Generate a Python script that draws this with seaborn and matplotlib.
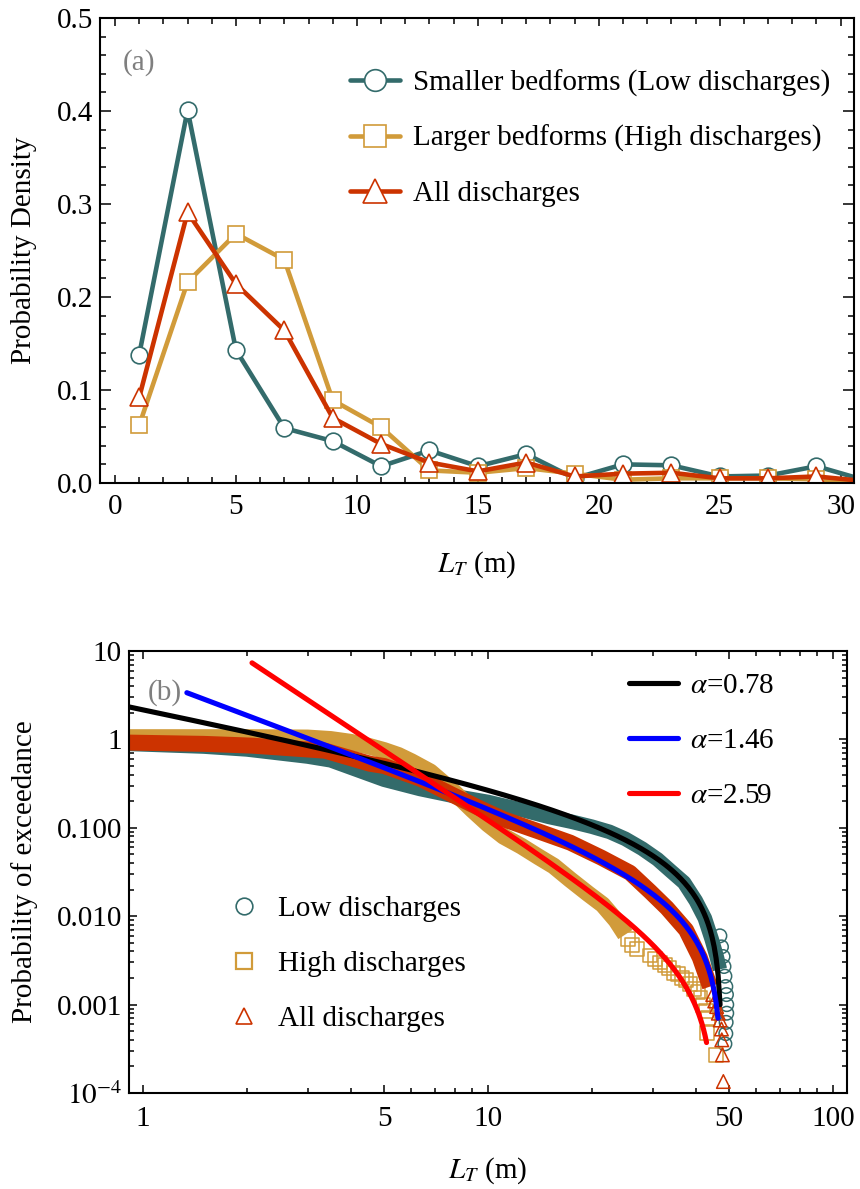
import numpy as np
import matplotlib
matplotlib.use("Agg")
import matplotlib.pyplot as plt
import seaborn as sns
from matplotlib.lines import Line2D
from matplotlib.ticker import MultipleLocator, FixedLocator, FixedFormatter, NullFormatter

# ---------------------------------------------------------------- data
# (a) probability density of bedform length, 2 m bins
bin_centers = [1, 3, 5, 7, 9, 11, 13, 15, 17, 19, 21, 23, 25, 27, 29, 31]
pdf_low = [0.138, 0.401, 0.143, 0.059, 0.045, 0.018, 0.035, 0.018, 0.031, 0.005,
           0.020, 0.019, 0.007, 0.008, 0.018, 0.003]
pdf_high = [0.062, 0.216, 0.268, 0.240, 0.089, 0.060, 0.0135, 0.011, 0.016, 0.010,
            0.0035, 0.005, 0.005, 0.005, 0.004, 0.001]
pdf_all = [0.092, 0.291, 0.214, 0.164, 0.070, 0.042, 0.022, 0.0125, 0.022, 0.007,
           0.010, 0.011, 0.005, 0.005, 0.007, 0.002]

# (b) exceedance probability, dense part of each sample
low_x = [0.91, 1.5, 2.0, 3.0, 3.5, 4.0, 5.0, 6.35, 8.0, 10.0, 12.5, 15.0, 17.5, 20.0,
         22.5, 25.0, 28.0, 31.0, 34.0, 37.0, 40.0, 42.5, 44.5, 46.0, 47.0]
low_p = [0.89, 0.83, 0.77, 0.64, 0.58, 0.48, 0.35, 0.275, 0.228, 0.196, 0.160, 0.133,
         0.117, 0.103, 0.090, 0.075, 0.058, 0.044, 0.032, 0.024, 0.015, 0.0095,
         0.0055, 0.0035, 0.0025]
high_x = [0.91, 2.0, 3.0, 3.5, 4.0, 4.5, 5.0, 5.5, 6.0, 6.8, 8.0, 9.0, 10.0, 11.1,
          12.5, 14.0, 15.5, 17.3, 19.5, 21.5, 23.5, 25.0]
high_p = [1.05, 1.05, 1.04, 1.00, 0.93, 0.84, 0.75, 0.66, 0.56, 0.43, 0.25, 0.16,
          0.11, 0.080, 0.062, 0.047, 0.037, 0.026, 0.018, 0.0135, 0.009, 0.0062]
all_x = [0.91, 1.5, 2.07, 3.37, 4.55, 5.0, 6.35, 7.9, 9.5, 11.1, 13.8, 17.3, 21.3,
         25.8, 29.5, 33.0, 37.5, 41.1, 44.0]
all_p = [0.92, 0.89, 0.85, 0.745, 0.53, 0.50, 0.36, 0.235, 0.165, 0.125, 0.093, 0.068,
         0.046, 0.031, 0.019, 0.0124, 0.0070, 0.0034, 0.0016]

# (b) sparse upper tail, individual observations
low_tail_x = [47.0, 47.5, 48.0, 48.3, 48.6, 48.9, 49.1, 49.2, 49.2, 49.0, 48.9, 48.6]
low_tail_p = [0.006, 0.0045, 0.0035, 0.0027, 0.0021, 0.0016, 0.0013, 0.0010, 0.0008,
              0.00063, 0.00047, 0.00036]
high_tail_x = [25.5, 26.2, 27.0, 29.5, 30.5, 31.5, 32.5, 33.5, 34.5, 35.5, 36.5, 37.5,
               38.5, 39.5, 40.5, 41.3, 42.0, 42.8, 43.5, 43.2, 45.8]
high_tail_p = [0.0055, 0.0047, 0.0043, 0.0036, 0.0033, 0.0030, 0.0028, 0.0026, 0.0023,
               0.0022, 0.0020, 0.0019, 0.0017, 0.0015, 0.0014, 0.0012, 0.0010, 0.00085,
               0.0007, 0.00048, 0.00027]
all_tail_x = [44.8, 45.4, 46.0, 46.5, 47.1, 47.5, 47.6, 47.8, 48.1]
all_tail_p = [0.0013, 0.0011, 0.00095, 0.0008, 0.00067, 0.00053, 0.0004, 0.00027, 0.000135]

# (b) upper-truncated power-law fits: P(>L) = C (L^-alpha - U^-alpha)
fit_alpha = [0.78, 1.46, 2.59]
fit_amp = [2.27, 5.2, 48.3]
fit_cutoff = [47.6, 47.6, 45.4]
fit_start = [0.91, 1.34, 2.07]
fit_end = [47.06, 46.4, 43.0]
fit_colors = ["black", "#0000FF", "#FF0000"]

# ---------------------------------------------------------------- style
FS = 21
sns.set_theme(style="ticks")
plt.rcParams.update({
    "font.family": ["Liberation Serif", "DejaVu Serif"],
    "mathtext.fontset": "stix",
    "font.size": FS,
    "axes.edgecolor": "black",
    "axes.labelcolor": "black",
    "text.color": "black",
    "xtick.color": "black",
    "ytick.color": "black",
    "axes.linewidth": 1.5,
})

TEAL = "#336B6B"
GOLD = "#D19B3A"
RED = "#CC3300"

fig = plt.figure(figsize=(8.6, 11.89), dpi=100)
ax1 = fig.add_axes([0.1163, 0.5938, 0.8767, 0.3911])
ax2 = fig.add_axes([0.1500, 0.0807, 0.8349, 0.3718])

# ---------------------------------------------------------------- panel (a)
series_a = [
    (pdf_low, TEAL, "o", "Smaller bedforms (Low discharges)"),
    (pdf_high, GOLD, "s", "Larger bedforms (High discharges)"),
    (pdf_all, RED, "^", "All discharges"),
]
for vals, col, mk, lab in series_a:
    sns.lineplot(x=bin_centers, y=vals, ax=ax1, color=col, lw=3.3, marker=mk,
                 ms=12 if mk != "^" else 13, mfc="white", mec=col, mew=1.2,
                 label=lab, estimator=None, sort=False)

ax1.set_xlim(-0.62, 30.55)
ax1.set_ylim(0, 0.5)
ax1.xaxis.set_major_locator(MultipleLocator(5))
ax1.xaxis.set_minor_locator(MultipleLocator(1))
ax1.yaxis.set_major_locator(MultipleLocator(0.1))
ax1.yaxis.set_minor_locator(MultipleLocator(0.02))
ax1.tick_params(which="both", direction="in", top=True, right=True, width=1.1,
                labelsize=FS)
ax1.tick_params(axis="x", which="major", length=6, pad=8)
ax1.tick_params(axis="x", which="minor", length=4)
ax1.tick_params(axis="y", which="major", length=8, pad=5)
ax1.tick_params(axis="y", which="minor", length=4.5)
ax1.set_xlabel(r"$L_T$ (m)", fontsize=FS)
ax1.set_ylabel("Probability Density", fontsize=FS)
ax1.xaxis.set_label_coords(0.5, -0.143)
ax1.yaxis.set_label_coords(-0.083, 0.5)
ax1.text(0.03, 0.905, "(a)", transform=ax1.transAxes, color="#7F7F7F",
         fontsize=FS, va="center", ha="left")
h, l = ax1.get_legend_handles_labels()
ax1.legend(h, l, loc="center left", bbox_to_anchor=(0.332, 0.741), frameon=False,
           borderpad=0, borderaxespad=0, handlelength=1.7, handletextpad=0.45,
           labelspacing=0.98, markerscale=1.3, fontsize=FS)

# ---------------------------------------------------------------- panel (b)
bands = [
    (low_x, low_p, TEAL, 10.5),
    (high_x, high_p, GOLD, 12),
    (all_x, all_p, RED, 11.5),
]
for bx, bp, col, w in bands:
    sns.lineplot(x=bx, y=bp, ax=ax2, color=col, lw=w, estimator=None, sort=False,
                 solid_capstyle="butt", solid_joinstyle="round")

tails = [
    (low_tail_x, low_tail_p, TEAL, "o", 95),
    (high_tail_x, high_tail_p, GOLD, "s", 100),
    (all_tail_x, all_tail_p, RED, "^", 95),
]
for tx, tp, col, mk, s in tails:
    sns.scatterplot(x=tx, y=tp, ax=ax2, marker=mk, s=s, facecolor="none",
                    edgecolor=col, linewidth=1.1)

for a, c, u, x0, x1, col in zip(fit_alpha, fit_amp, fit_cutoff, fit_start, fit_end,
                                fit_colors):
    xs = np.geomspace(x0, x1, 300)
    ys = c * (xs ** (-a) - u ** (-a))
    sns.lineplot(x=xs, y=ys, ax=ax2, color=col, lw=3.7, estimator=None, sort=False,
                 label=r"$\alpha$=%.2f" % a)

ax2.set_xscale("log")
ax2.set_yscale("log")
ax2.set_xlim(10 ** -0.0406, 10 ** 2.0406)
ax2.set_ylim(1e-4, 10)
ax2.xaxis.set_major_locator(FixedLocator([1, 5, 10, 50, 100]))
ax2.xaxis.set_major_formatter(FixedFormatter(["1", "5", "10", "50", "100"]))
ax2.xaxis.set_minor_locator(FixedLocator([2, 3, 4, 6, 7, 8, 9, 20, 30, 40, 60, 70, 80, 90]))
ax2.xaxis.set_minor_formatter(NullFormatter())
ax2.yaxis.set_major_locator(FixedLocator([1e-4, 1e-3, 1e-2, 1e-1, 1, 10]))
ax2.yaxis.set_major_formatter(FixedFormatter([r"$10^{-4}$", "0.001", "0.010", "0.100", "1", "10"]))
ax2.yaxis.set_minor_locator(FixedLocator([m * 10.0 ** e for e in range(-4, 1) for m in range(2, 10)]))
ax2.yaxis.set_minor_formatter(NullFormatter())
ax2.tick_params(which="both", direction="in", top=True, right=True, width=1.1,
                labelsize=FS)
ax2.tick_params(which="major", length=6)
ax2.tick_params(which="minor", length=3.5)
ax2.tick_params(axis="x", which="major", pad=9)
ax2.tick_params(axis="y", which="major", pad=5)
ax2.set_xlabel(r"$L_T$ (m)", fontsize=FS)
ax2.set_ylabel("Probability of exceedance", fontsize=FS)
ax2.xaxis.set_label_coords(0.5, -0.142)
ax2.yaxis.set_label_coords(-0.127, 0.5)
ax2.text(0.026, 0.907, "(b)", transform=ax2.transAxes, color="#7F7F7F",
         fontsize=FS, va="center", ha="left")

h2, l2 = ax2.get_legend_handles_labels()
fit_leg = ax2.legend(h2, l2, loc="center left", bbox_to_anchor=(0.696, 0.797),
                     frameon=False, borderpad=0, borderaxespad=0, handlelength=1.7,
                     handletextpad=0.4, labelspacing=0.98, fontsize=FS)
ax2.add_artist(fit_leg)

mk_handles = [
    Line2D([], [], ls="none", marker="o", ms=12, mfc="none", mec=TEAL, mew=1.2),
    Line2D([], [], ls="none", marker="s", ms=11, mfc="none", mec=GOLD, mew=1.6),
    Line2D([], [], ls="none", marker="^", ms=12, mfc="none", mec=RED, mew=1.2),
]
ax2.legend(mk_handles, ["Low discharges", "High discharges", "All discharges"],
           loc="center left", bbox_to_anchor=(0.142, 0.293), frameon=False,
           borderpad=0, borderaxespad=0, handlelength=0.9, handletextpad=0.7,
           labelspacing=0.98, fontsize=FS)

fig.savefig("out.png", dpi=100)
